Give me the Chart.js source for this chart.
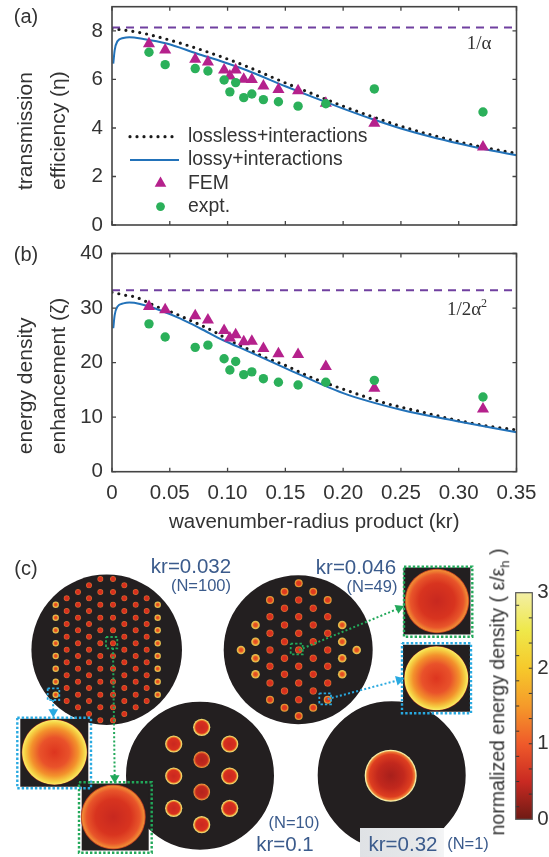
<!DOCTYPE html>
<html>
<head>
<meta charset="utf-8">
<script src="https://cdn.jsdelivr.net/npm/chart.js@4/dist/chart.umd.js"></script>
<style>
  html, body { margin: 0; background: #fff; }
  #page { position: relative; width: 549px; height: 857px; overflow: hidden; font-family: "Liberation Sans", Arial, sans-serif; }
  canvas { position: absolute; }
  .t { position: absolute; transform: translate(-50%, -50%); white-space: nowrap; line-height: 1; }
  .panel { font-size: 20px; color: #333; }
  .kr { font-size: 20.5px; color: #3b5b8c; }
  .n { font-size: 16.5px; color: #3b5b8c; }
  .limit { font-family: "Liberation Serif", serif; font-size: 19px; color: #333; }
  .limit sup { font-size: 12px; line-height: 0; }
  #patch { position: absolute; left: 360px; top: 828px; width: 84px; height: 29px; background: linear-gradient(90deg, #dfe2e5, #e6e8ea 70%, #f4f5f6); }
  #cbarTitle { font-size: 19.5px; color: #333; transform: translate(-50%, -50%) rotate(-90deg); }
  #cbarTitle sub { font-size: 13px; line-height: 0; }
</style>
</head>
<body>
<div id="page">
  <canvas id="chartA" width="549" height="245" style="left:0;top:0"></canvas>
  <canvas id="chartB" width="549" height="310" style="left:0;top:235px"></canvas>
  <canvas id="chartC" width="549" height="312" style="left:0;top:545px"></canvas>
  <canvas id="chartBar" width="59" height="265" style="left:490px;top:575px"></canvas>

  <div class="t panel" style="left:26px;top:16px">(a)</div>
  <div class="t panel" style="left:26px;top:254px">(b)</div>
  <div class="t panel" style="left:26px;top:568px">(c)</div>
  <div class="t limit" style="left:479px;top:42px">1/α</div>
  <div class="t limit" style="left:467px;top:308px">1/2α<sup>2</sup></div>

  <div class="t kr" style="left:191px;top:566px">kr=0.032</div>
  <div class="t n" style="left:201px;top:585px">(N=100)</div>
  <div class="t kr" style="left:356px;top:567px">kr=0.046</div>
  <div class="t n" style="left:372px;top:586px">(N=49)</div>
  <div class="t n" style="left:294px;top:822px">(N=10)</div>
  <div class="t kr" style="left:285px;top:844px">kr=0.1</div>
  <div id="patch"></div>
  <div class="t kr" style="left:403px;top:844px">kr=0.32</div>
  <div class="t n" style="left:468px;top:843px">(N=1)</div>
  <div class="t" id="cbarTitle" style="left:498px;top:692px">normalized energy density ( ε/ε<sub>h</sub> )</div>
</div>

<script>
// measured points
const krPoints = [0.032, 0.046, 0.072, 0.083, 0.097, 0.102, 0.107, 0.114, 0.121, 0.131, 0.144, 0.161, 0.185, 0.227, 0.321];
const femEta = [7.47, 7.21, 6.83, 6.72, 6.39, 6.14, 6.39, 6.01, 6.0, 5.73, 5.59, 5.53, 5.02, 4.19, 3.22];
const exptEta = [7.12, 6.61, 6.45, 6.35, 5.98, 5.49, 5.87, 5.25, 5.40, 5.17, 5.08, 4.9, 5.0, 5.61, 4.66];
const femZeta = [30.3, 29.7, 28.6, 27.8, 25.9, 24.5, 25.1, 23.8, 23.9, 22.6, 21.6, 21.5, 19.3, 15.3, 11.5];
const exptZeta = [27.1, 24.7, 22.8, 23.2, 20.7, 18.65, 20.2, 17.8, 18.3, 17.05, 16.4, 15.9, 16.4, 16.75, 13.7];

// curves (a)
const losslessEtaKr = [0, 0.0063, 0.02, 0.032, 0.0623, 0.0926, 0.1165, 0.15, 0.175, 0.2, 0.225, 0.25, 0.275, 0.3, 0.325, 0.35];
const losslessEta = [8.09, 8.06, 7.97, 7.85, 7.45, 6.97, 6.54, 5.86, 5.38, 4.9, 4.47, 4.07, 3.73, 3.43, 3.17, 2.95];
const lossyEtaKr = [0.0011, 0.0023, 0.0046, 0.0098, 0.015, 0.0271, 0.0473, 0.0733, 0.0963, 0.1165, 0.15, 0.175, 0.2, 0.225, 0.25, 0.275, 0.3, 0.325, 0.35];
const lossyEta = [6.65, 7.2, 7.57, 7.71, 7.74, 7.67, 7.48, 7.07, 6.72, 6.38, 5.72, 5.25, 4.8, 4.37, 3.98, 3.65, 3.36, 3.1, 2.88];

// curves (b)
const losslessZetaKr = [0, 0.0063, 0.0127, 0.019, 0.0254, 0.0372, 0.0545, 0.066, 0.0776, 0.0891, 0.105, 0.1165, 0.133, 0.15, 0.17, 0.206, 0.236, 0.267, 0.297, 0.327, 0.35];
const losslessZeta = [32.9, 32.6, 32.3, 32.1, 31.6, 30.4, 29.0, 27.9, 26.8, 25.6, 23.7, 22.6, 20.9, 19.5, 17.5, 14.7, 12.6, 11.0, 9.5, 8.3, 7.67];
const lossyZetaKr = [0.0011, 0.0023, 0.0046, 0.0098, 0.015, 0.0242, 0.0415, 0.0588, 0.0761, 0.0963, 0.1165, 0.15, 0.2, 0.25, 0.3, 0.35];
const lossyZeta = [26.3, 28.7, 30.25, 30.85, 31, 30.75, 29.6, 28.1, 26.3, 24.1, 22.2, 19.0, 14.4, 11.35, 9.2, 7.24];

const limitEta = 8.14;
const limitZeta = 33.25;

// panel (c), positions on the figure
const colA = [604.7, 617.7, 630.3, 643.3, 656, 668.7, 681.7, 694.7];
const colB = [598.3, 611, 624, 636.7, 649.7, 662.3, 675.3, 688, 701];
const colC = [592, 604.7, 617.7, 630.3, 643.3, 656, 668.7, 681.7, 694.7, 707.3];
const colD = [585.3, 598.3, 611, 624, 636.7, 649.7, 662.3, 675.3, 688, 701, 714];
const colE = [579, 592, 604.7, 617.7, 630.3, 643.3, 656, 668.7, 681.7, 694.7, 707.3, 720.3];
const n100Edge = [[55.7, colA], [157.7, colA]];
const n100Inner = [[66.7, colB], [78, colC], [89, colD], [100.3, colE], [113, colE], [124.3, colD], [135.7, colC], [146.7, colB]];

const n49Inner = [
  [270, [616.7, 633.3, 650, 666.3, 683]],
  [284.5, [608.3, 625, 641.7, 658.3, 674.3, 691]],
  [298.7, [600, 616.7, 633.3, 650, 666.3, 683, 699.7]],
  [313.2, [608.3, 625, 641.7, 658.3, 674.3, 691]],
  [327.7, [616.7, 633.3, 650, 666.3, 683]]
];
const n49Mid = [
  [270, [600, 699.7]],
  [284.5, [591.7, 707.7]],
  [298.7, [583.3, 716]],
  [313.2, [591.7, 707.7]],
  [327.7, [600, 699.7]]
];
const n49Edge = [[241, [650]], [255.5, [625, 641.7, 658.3, 674.3]], [342.2, [625, 641.7, 658.3, 674.3]], [356.7, [650]]];

const n10Outer = [[201.7, [727.3, 824.7]], [173.7, [744, 776, 808.3]], [229.7, [744, 776, 808.3]]];
const n10Inner = [[201.7, [759.7, 792]]];

const cmapStops = [0, 0.5, 1, 1.5, 2, 2.5, 3];
const cmapColors = ['#6e1a14', '#c92a22', '#ef5a2a', '#f59a2a', '#f6c92b', '#efe84a', '#f3efa5'];

const textColor = '#333';
const sansFont = '"Liberation Sans", Arial, sans-serif';

function xy(xs, ys) {
  return xs.map((x, i) => ({ x: x, y: ys[i] }));
}

function columns(list) {
  return list.flatMap(c => c[1].map(y => ({ x: c[0], y: y })));
}

// ticks point inward on all four sides, as in the original figure
const insideTicks = {
  id: 'insideTicks',
  afterDraw(chart) {
    const c = chart.ctx;
    const a = chart.chartArea;
    c.save();
    c.strokeStyle = '#444';
    c.lineWidth = 1.3;
    c.beginPath();
    chart.scales.x.ticks.forEach((t, i) => {
      const px = chart.scales.x.getPixelForTick(i);
      c.moveTo(px, a.bottom); c.lineTo(px, a.bottom - 4);
      c.moveTo(px, a.top); c.lineTo(px, a.top + 4);
    });
    chart.scales.y.ticks.forEach((t, i) => {
      const py = chart.scales.y.getPixelForTick(i);
      c.moveTo(a.left, py); c.lineTo(a.left + 4, py);
      c.moveTo(a.right, py); c.lineTo(a.right - 4, py);
    });
    c.stroke();
    c.lineWidth = 1.6;
    c.strokeRect(a.left, a.top, a.right - a.left, a.bottom - a.top);
    c.restore();
  }
};

// legend sits inside the plot, so it is drawn here from the datasets
const insetLegend = {
  id: 'insetLegend',
  afterDraw(chart) {
    const opts = chart.options.plugins.insetLegend;
    if (!opts || !opts.show) return;
    const c = chart.ctx;
    c.save();
    c.font = '19.4px ' + sansFont;
    c.textBaseline = 'middle';
    chart.data.datasets.filter(d => d.label).forEach((d, i) => {
      const y = 136.7 + i * 23.3;
      if (d.showLine) {
        c.strokeStyle = d.borderColor;
        c.lineWidth = d.borderWidth;
        c.lineCap = d.borderCapStyle || 'butt';
        c.setLineDash(d.borderDash || []);
        c.beginPath();
        c.moveTo(130, y);
        c.lineTo(179, y);
        c.stroke();
        c.setLineDash([]);
      } else {
        c.fillStyle = d.pointBackgroundColor;
        c.strokeStyle = d.pointBackgroundColor;
        Chart.helpers.drawPoint(c, { pointStyle: d.pointStyle, radius: d.pointRadius - 0.3, rotation: 0, borderWidth: 0 }, 160.5, y);
      }
      c.fillStyle = textColor;
      c.fillText(d.label, 188, y);
    });
    c.restore();
  }
};

function curveSets(labelA, labelB, lossless, lossy, fem, expt, limit) {
  return [
    { label: labelA, data: lossless, showLine: true, borderColor: '#1a1a1a', borderWidth: 3.2, borderDash: [0, 7], borderCapStyle: 'round', pointRadius: 0, cubicInterpolationMode: 'monotone', order: 5 },
    { label: labelB, data: lossy, showLine: true, borderColor: '#2272b9', borderWidth: 2, pointRadius: 0, cubicInterpolationMode: 'monotone', order: 4 },
    { label: 'FEM', data: fem, pointStyle: 'triangle', pointRadius: 7, pointBackgroundColor: '#b5218c', pointBorderWidth: 0, order: 3 },
    { label: 'expt.', data: expt, pointStyle: 'circle', pointRadius: 4.7, pointBackgroundColor: '#2bb05a', pointBorderWidth: 0, order: 2 },
    { data: limit, showLine: true, borderColor: '#7040a0', borderWidth: 2, borderDash: [8, 6], pointRadius: 0, order: 1 }
  ];
}

function noMargins(s) {
  s.paddingTop = 0; s.paddingBottom = 0; s.paddingLeft = 0; s.paddingRight = 0;
}

function plotOptions(o) {
  return {
    responsive: false,
    animation: false,
    layout: { autoPadding: false, padding: { left: 0, right: 32.5, top: o.top, bottom: o.bottom } },
    plugins: { legend: { display: false }, tooltip: { enabled: false }, insetLegend: { show: o.legend } },
    scales: {
      x: {
        type: 'linear', min: 0, max: 0.35,
        grid: { display: false, drawTicks: false }, border: { display: false },
        ticks: {
          display: o.xLabels, stepSize: 0.05, padding: 9.5, color: textColor, maxRotation: 0,
          font: { family: sansFont, size: 20.5 },
          callback: v => (v === 0 ? '0' : v.toFixed(2))
        },
        title: {
          display: o.xLabels, text: 'wavenumber-radius product (kr)', color: textColor,
          font: { family: sansFont, size: 20.5 }, padding: { top: 0, bottom: 5 }
        },
        afterFit: s => { s.height = o.xHeight; noMargins(s); }
      },
      y: {
        min: 0, max: o.yMax,
        grid: { display: false, drawTicks: false }, border: { display: false },
        ticks: { stepSize: o.yStep, includeBounds: false, padding: 9, color: textColor, font: { family: sansFont, size: 20.5 } },
        title: {
          display: true, text: o.yTitle, color: textColor, align: 'start',
          font: { family: sansFont, size: 21, lineHeight: 1.55 }, padding: { top: 10, bottom: 0 }
        },
        afterFit: s => { s.width = 112; noMargins(s); }
      }
    }
  };
}

new Chart(document.getElementById('chartA'), {
  type: 'scatter',
  data: {
    datasets: curveSets('lossless+interactions', 'lossy+interactions',
      xy(losslessEtaKr, losslessEta), xy(lossyEtaKr, lossyEta),
      xy(krPoints, femEta), xy(krPoints, exptEta),
      [{ x: 0, y: limitEta }, { x: 0.35, y: limitEta }])
  },
  options: plotOptions({ top: 6.7, bottom: 20, xLabels: false, xHeight: 0, yMax: 9, yStep: 2, legend: true, yTitle: ['      transmission', '      efficiency (η)'] }),
  plugins: [insideTicks, insetLegend]
});

new Chart(document.getElementById('chartB'), {
  type: 'scatter',
  data: {
    datasets: curveSets('', '',
      xy(losslessZetaKr, losslessZeta), xy(lossyZetaKr, lossyZeta),
      xy(krPoints, femZeta), xy(krPoints, exptZeta),
      [{ x: 0, y: limitZeta }, { x: 0.35, y: limitZeta }])
  },
  options: plotOptions({ top: 18.5, bottom: 5, xLabels: true, xHeight: 68.3, yMax: 40, yStep: 10, legend: false, yTitle: ['   energy density', '   enhancement (ζ)'] }),
  plugins: [insideTicks]
});

// panel (c): every disc is a point on a hidden figure-sized scale
function radial(stops) {
  return ctx => {
    if (!ctx.raw) return stops[0][1];
    const chart = ctx.chart;
    const x = chart.scales.x.getPixelForValue(ctx.raw.x);
    const y = chart.scales.y.getPixelForValue(ctx.raw.y);
    if (!Number.isFinite(x) || !Number.isFinite(y)) return stops[0][1];
    const r = ctx.dataset.pointRadius;
    const g = chart.ctx.createRadialGradient(x, y, 0, x, y, r);
    stops.forEach(s => g.addColorStop(s[0], s[1]));
    return g;
  };
}

const tinyInner = [[0, '#d42c1e'], [0.65, '#d9341f'], [0.9, '#e0642a'], [1, '#a05a30']];
const tinyMid = [[0, '#dc3420'], [0.55, '#e0401f'], [0.8, '#ea8a30'], [1, '#d8a23a']];
const tinyEdge = [[0, '#e2441f'], [0.45, '#e85c26'], [0.72, '#eeb03c'], [1, '#d8c25a']];
const midOuter = [[0, '#c9281f'], [0.68, '#d8301f'], [0.8, '#ec7a2a'], [0.9, '#efd060'], [1, '#e8d880']];
const midInner = [[0, '#b4231c'], [0.68, '#c42a1e'], [0.84, '#e0602a'], [0.95, '#e89a40'], [1, '#c08a40']];
const edgeInset = [[0, '#dd351f'], [0.45, '#e9522a'], [0.72, '#f3922c'], [0.9, '#f6d244'], [0.97, '#f7e864'], [1, '#b5301c']];
const centerInset = [[0, '#c8281f'], [0.55, '#d8341f'], [0.82, '#e8552a'], [0.95, '#f08a34'], [1, '#a8281c']];
const singleDisc = [[0, '#a81f1b'], [0.5, '#c2281d'], [0.82, '#de3e20'], [0.92, '#ee7c34'], [0.97, '#f8f0a0'], [1, '#f4eeb0']];

const ink = '#231f20';
const dotGreen = '#22a85a';
const dotBlue = '#29a9e0';

function blob(points, r, fill, extra) {
  return Object.assign({ data: points, pointStyle: 'circle', pointRadius: r, pointBackgroundColor: fill, pointBorderWidth: 0 }, extra);
}

function frame(x0, x1, y0, y1, color, w) {
  return {
    data: [{ x: x0, y: y0 }, { x: x1, y: y0 }, { x: x1, y: y1 }, { x: x0, y: y1 }, { x: x0, y: y0 }],
    showLine: true, borderColor: color, borderWidth: w, borderDash: [2.4, 2], pointRadius: 0
  };
}

function arrow(x0, y0, x1, y1, color, turn) {
  return {
    data: [{ x: x0, y: y0 }, { x: x1, y: y1 }],
    showLine: true, borderColor: color, borderWidth: 2, borderDash: [2, 2.2],
    pointRadius: [0, 5.6], pointStyle: 'triangle', pointRotation: turn,
    pointBackgroundColor: color, pointBorderWidth: 0
  };
}

function square(x, y, half) {
  return { data: [{ x: x, y: y }], pointStyle: 'rect', pointRadius: half * Math.SQRT2, pointBackgroundColor: ink, pointBorderWidth: 0 };
}

// later entries go underneath, so the list runs from top layer to bottom
new Chart(document.getElementById('chartC'), {
  type: 'scatter',
  data: {
    datasets: [
      arrow(327.7, 699, 399, 680, dotBlue, 75),
      arrow(299, 650, 399, 608.3, dotGreen, 67),
      arrow(113, 648, 114.7, 778, dotGreen, 180),
      arrow(53, 700, 53.3, 712, dotBlue, 180),
      frame(79, 151.7, 782.3, 852.7, dotGreen, 2.4),
      frame(17.3, 91, 717.7, 788.3, dotBlue, 2.4),
      frame(404, 472.3, 566.7, 636.7, dotGreen, 2.4),
      frame(402, 471, 643.3, 713.3, dotBlue, 2.4),
      frame(106, 117.3, 637, 648.3, dotGreen, 1.8),
      frame(47.7, 59.3, 688.3, 700, dotBlue, 1.8),
      frame(290.7, 302.7, 643.7, 654.3, dotGreen, 1.8),
      frame(319.3, 331, 693.3, 704.3, dotBlue, 1.8),
      blob([{ x: 113.3, y: 817 }], 32.5, radial(centerInset)),
      square(115.2, 817, 33.5),
      blob([{ x: 54.5, y: 752.3 }], 32.8, radial(edgeInset)),
      square(54.3, 752.7, 34),
      blob([{ x: 437, y: 601 }], 32.3, radial(centerInset)),
      square(437, 601, 33.5),
      blob([{ x: 436.3, y: 678.3 }], 32.3, radial(edgeInset)),
      square(436.5, 678.3, 33.5),
      blob([{ x: 390.7, y: 775.7 }], 26, radial(singleDisc)),
      blob([{ x: 391.7, y: 775.3 }], 75, ink, { pointBorderWidth: 2, pointBorderColor: '#fff' }),
      blob(columns(n10Inner), 8.4, radial(midInner)),
      blob(columns(n10Outer), 8.6, radial(midOuter)),
      blob([{ x: 200, y: 775.7 }], 75, ink, { pointBorderWidth: 2, pointBorderColor: '#fff' }),
      blob(columns(n49Edge), 4.3, radial(tinyEdge)),
      blob(columns(n49Mid), 4, radial(tinyMid)),
      blob(columns(n49Inner), 3.7, radial(tinyInner)),
      blob([{ x: 298.2, y: 649.7 }], 74.5, ink),
      blob(columns(n100Edge), 3.2, radial(tinyEdge)),
      blob(columns(n100Inner), 3, radial(tinyInner)),
      blob([{ x: 106.7, y: 649.7 }], 75.3, ink)
    ]
  },
  options: {
    responsive: false,
    animation: false,
    layout: { autoPadding: false, padding: 0 },
    plugins: { legend: { display: false }, tooltip: { enabled: false } },
    scales: {
      x: { type: 'linear', display: false, min: 0, max: 549 },
      y: { type: 'linear', display: false, min: 545, max: 857, reverse: true }
    }
  }
});

// colour bar: one floating bar from 0 to 3
const barTicks = {
  id: 'barTicks',
  afterDraw(chart) {
    const c = chart.ctx;
    const a = chart.chartArea;
    const s = chart.scales.y;
    c.save();
    c.strokeStyle = '#333';
    c.lineWidth = 1;
    c.beginPath();
    s.ticks.forEach((t, i) => {
      const py = s.getPixelForTick(i);
      const sixth = Math.round(t.value * 6);
      if (sixth === 0 || sixth === 18) return;
      if (sixth % 2) {
        c.moveTo(a.left, py); c.lineTo(a.left + 3.5, py);
      } else {
        c.moveTo(a.right, py); c.lineTo(a.right - 3.5, py);
      }
    });
    c.stroke();
    c.strokeStyle = '#555';
    c.lineWidth = 1.2;
    c.strokeRect(a.left, a.top, a.right - a.left, a.bottom - a.top);
    c.restore();
  }
};

new Chart(document.getElementById('chartBar'), {
  type: 'bar',
  data: {
    labels: ['density'],
    datasets: [{
      data: [[0, 3]],
      barPercentage: 1,
      categoryPercentage: 1,
      borderSkipped: false,
      backgroundColor: ctx => {
        const a = ctx.chart.chartArea;
        if (!a) return cmapColors[0];
        const g = ctx.chart.ctx.createLinearGradient(0, a.bottom, 0, a.top);
        cmapStops.forEach((v, i) => g.addColorStop(v / 3, cmapColors[i]));
        return g;
      }
    }]
  },
  options: {
    responsive: false,
    animation: false,
    layout: { autoPadding: false, padding: { left: 25.7, right: 0, top: 17.7, bottom: 20.7 } },
    plugins: { legend: { display: false }, tooltip: { enabled: false } },
    scales: {
      x: { display: false },
      y: {
        position: 'right', min: 0, max: 3,
        grid: { display: false, drawTicks: false }, border: { display: false },
        afterBuildTicks: s => { s.ticks = [0, 1, 2, 3, 4, 5, 6, 7, 8, 9, 10, 11, 12, 13, 14, 15, 16, 17, 18].map(k => ({ value: k / 6 })); },
        ticks: {
          padding: 5, color: textColor, font: { family: sansFont, size: 20.5 }, autoSkip: false,
          callback: v => (Number.isInteger(Math.round(v * 1e6) / 1e6) ? Math.round(v) : '')
        },
        afterFit: s => { s.width = 16.7; noMargins(s); }
      }
    }
  },
  plugins: [barTicks]
});
</script>
</body>
</html>
